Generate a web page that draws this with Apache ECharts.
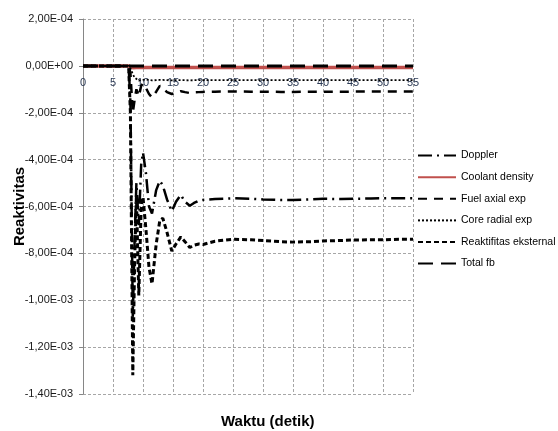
<!DOCTYPE html>
<html>
<head>
<meta charset="utf-8">
<script src="https://cdn.jsdelivr.net/npm/echarts@6/dist/echarts.min.js"></script>
<style>
html,body{margin:0;padding:0;background:#fff;}
#chart{width:558px;height:431px;}
</style>
</head>
<body>
<div id="chart"></div>
<script>
// ---- data ----
var seriesNames = ['Doppler', 'Coolant density', 'Fuel axial exp', 'Core radial exp', 'Reaktifitas eksternal', 'Total fb'];
var time = [0, 7.6, 7.9, 8.3, 8.6, 8.9, 9.3, 9.7, 10.0, 10.5, 11.0, 11.5, 12.2, 12.8, 13.3, 14.0, 14.8, 15.5, 16.3, 17.0, 17.8, 18.5, 19.3, 20, 22, 25, 28, 30, 33, 35, 38, 40, 43, 45, 48, 50, 53, 55];
var doppler = [0, 0, -1.5e-4, -1.07e-3, -7.5e-4, -5.0e-4, -6.8e-4, -4.2e-4, -3.7e-4, -4.6e-4, -6.0e-4, -6.3e-4, -5.3e-4, -4.9e-4, -5.1e-4, -5.7e-4, -6.2e-4, -5.8e-4, -5.5e-4, -5.8e-4, -5.97e-4, -5.85e-4, -5.75e-4, -5.72e-4, -5.68e-4, -5.65e-4, -5.67e-4, -5.7e-4, -5.72e-4, -5.72e-4, -5.7e-4, -5.67e-4, -5.68e-4, -5.67e-4, -5.66e-4, -5.65e-4, -5.65e-4, -5.65e-4];
var coolant = [0, 0, -3e-6, -8e-6, -7e-6, -7e-6, -7e-6, -7e-6, -7e-6, -7e-6, -7e-6, -7e-6, -7e-6, -7e-6, -7e-6, -7e-6, -7e-6, -7e-6, -7e-6, -7e-6, -7e-6, -7e-6, -7e-6, -7e-6, -7e-6, -7e-6, -7e-6, -7e-6, -7e-6, -7e-6, -7e-6, -7e-6, -7e-6, -7e-6, -7e-6, -7e-6, -7e-6, -7e-6];
var fuelAxial = [0, 0, -3e-5, -2.0e-4, -1.45e-4, -1.0e-4, -1.3e-4, -8.5e-5, -7.5e-5, -9.5e-5, -1.2e-4, -1.35e-4, -1.1e-4, -8.5e-5, -9.5e-5, -1.12e-4, -1.2e-4, -1.15e-4, -1.08e-4, -1.12e-4, -1.16e-4, -1.13e-4, -1.12e-4, -1.11e-4, -1.1e-4, -1.09e-4, -1.1e-4, -1.1e-4, -1.11e-4, -1.11e-4, -1.1e-4, -1.1e-4, -1.1e-4, -1.1e-4, -1.09e-4, -1.09e-4, -1.09e-4, -1.09e-4];
var coreRadial = [0, 0, -1e-5, -3.5e-5, -5e-5, -5.8e-5, -6.3e-5, -6e-5, -5.8e-5, -5.8e-5, -6e-5, -6.2e-5, -6.1e-5, -6e-5, -6e-5, -6.1e-5, -6.2e-5, -6.1e-5, -6.1e-5, -6.1e-5, -6.2e-5, -6.1e-5, -6.1e-5, -6.1e-5, -6.1e-5, -6.1e-5, -6.1e-5, -6.1e-5, -6.1e-5, -6.1e-5, -6.1e-5, -6.1e-5, -6.1e-5, -6.1e-5, -6.1e-5, -6.1e-5, -6.1e-5, -6.1e-5];
var eksternal = [0, 0, -2e-4, -1.32e-3, -8.5e-4, -5.5e-4, -9.8e-4, -6.0e-4, -5.6e-4, -7.0e-4, -8.6e-4, -9.3e-4, -7.6e-4, -6.6e-4, -6.5e-4, -7.1e-4, -7.9e-4, -7.6e-4, -7.3e-4, -7.5e-4, -7.75e-4, -7.65e-4, -7.6e-4, -7.62e-4, -7.48e-4, -7.4e-4, -7.42e-4, -7.45e-4, -7.5e-4, -7.52e-4, -7.5e-4, -7.47e-4, -7.45e-4, -7.43e-4, -7.42e-4, -7.42e-4, -7.4e-4, -7.4e-4];
var totalFb = [0, 0, 0, 0, 0, 0, 0, 0, 0, 0, 0, 0, 0, 0, 0, 0, 0, 0, 0, 0, 0, 0, 0, 0, 0, 0, 0, 0, 0, 0, 0, 0, 0, 0, 0, 0, 0, 0];
var xMin = 0, xMax = 55, xStep = 5;
var yMin = -14e-4, yMax = 2e-4, yStep = 2e-4;
var xTitle = 'Waktu (detik)';
var yTitle = 'Reaktivitas';

// ---- chart ----
function pairs(arr) { return time.map(function (t, i) { return [t, arr[i]]; }); }
function sci(v) {
  if (Math.abs(v) < 1e-12) return '0,00E+00';
  var s = v.toExponential(2);
  var parts = s.split('e');
  var mant = parts[0].replace('.', ',');
  var ex = parseInt(parts[1], 10);
  var sign = ex < 0 ? '-' : '+';
  var ea = Math.abs(ex);
  return mant + 'E' + sign + (ea < 10 ? '0' : '') + ea;
}
var styles = [
  { color: '#000', width: 2.5, type: [14, 5, 2, 5] },
  { color: '#c0504d', width: 3.5, type: 'solid' },
  { color: '#000', width: 2.5, type: [9, 7] },
  { color: '#000', width: 1.8, type: [2, 2] },
  { color: '#000', width: 3, type: [5, 3] },
  { color: '#000', width: 3, type: [15, 8] }
];
var dataArrs = [doppler, coolant, fuelAxial, coreRadial, eksternal, totalFb];
var series = seriesNames.map(function (n, i) {
  return {
    name: n, type: 'line', data: pairs(dataArrs[i]),
    symbol: 'none', showSymbol: false, smooth: false,
    lineStyle: styles[i], itemStyle: { color: styles[i].color },
    emphasis: { disabled: true }, animation: false, z: 2 + i
  };
});
var plotTop = 19, plotBottom = 394;
var chart = echarts.init(document.getElementById('chart'), null, { renderer: 'canvas' });
chart.setOption({
  backgroundColor: '#fff',
  animation: false,
  grid: { left: 83, right: 145, top: plotTop, bottom: 431 - plotBottom, containLabel: false, outerBoundsMode: 'none' },
  title: {
    text: xTitle, left: 216, top: 409,
    textStyle: { fontFamily: 'Liberation Sans', fontWeight: 'bold', fontSize: 15, color: '#000' }
  },
  legend: {
    orient: 'vertical', left: 417, top: 150,
    itemWidth: 38, itemHeight: 14, itemGap: 10.4, padding: 0,
    itemStyle: { opacity: 0, borderWidth: 0 },
    textStyle: { fontFamily: 'Liberation Sans', fontSize: 10.5, color: '#000' },
    data: seriesNames
  },
  xAxis: {
    type: 'value', min: xMin, max: xMax, interval: xStep,
    position: 'bottom',
    offset: -((plotBottom - plotTop) * (0 - yMin) / (yMax - yMin)),
    axisLine: { show: true, onZero: false, lineStyle: { color: '#868686', width: 1 } },
    axisTick: { show: false },
    axisLabel: { margin: 12, fontFamily: 'Liberation Sans', fontSize: 11, color: '#2b3a55' },
    splitLine: { show: true, lineStyle: { color: '#a6a6a6', type: [3, 2], width: 1 } }
  },
  yAxis: {
    type: 'value', min: yMin, max: yMax, interval: yStep,
    name: yTitle, nameLocation: 'middle', nameGap: 56, nameRotate: 90, nameMoveOverlap: false,
    nameTextStyle: { fontFamily: 'Liberation Sans', fontWeight: 'bold', fontSize: 15, color: '#000' },
    axisLine: { show: true, onZero: false, lineStyle: { color: '#868686', width: 1 } },
    axisTick: { show: true, length: 4, lineStyle: { color: '#868686' } },
    axisLabel: { margin: 10, formatter: sci, fontFamily: 'Liberation Sans', fontSize: 11, color: '#1a1a1a' },
    splitLine: { show: true, lineStyle: { color: '#a6a6a6', type: [3, 2], width: 1 } }
  },
  series: series
});
</script>
</body>
</html>
